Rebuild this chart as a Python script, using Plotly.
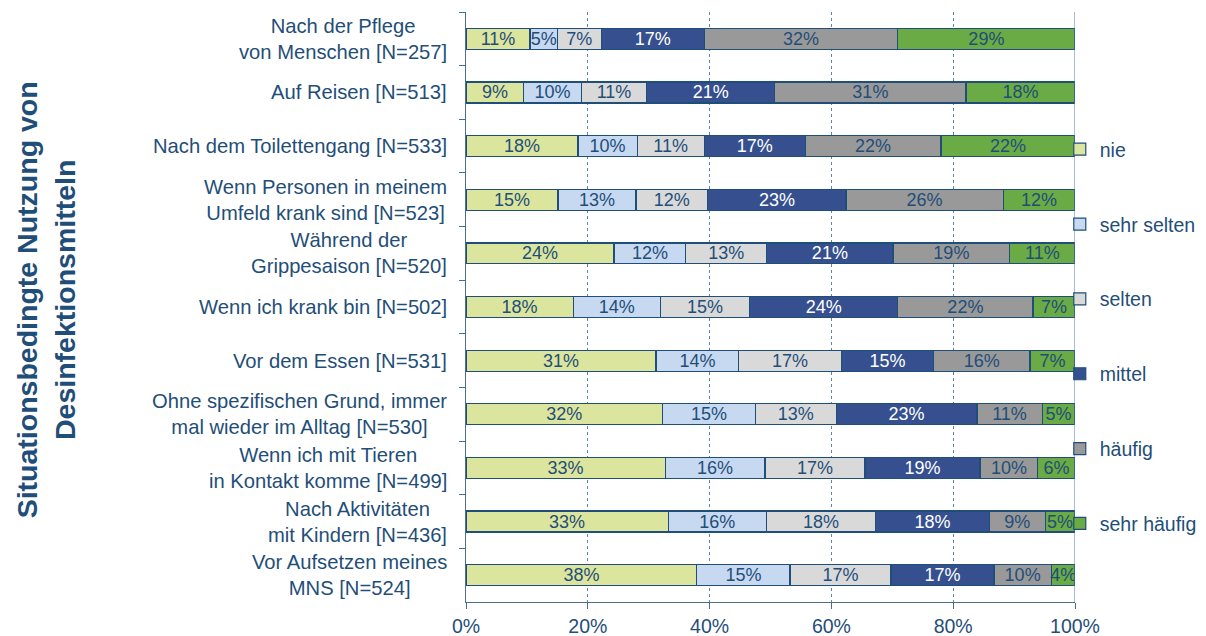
import plotly.graph_objects as go

categories = [
    "Nach der Pflege<br>von Menschen [N=257]",
    "Auf Reisen [N=513]",
    "Nach dem Toilettengang [N=533]",
    "Wenn Personen in meinem<br>Umfeld krank sind [N=523]",
    "Während der<br>Grippesaison [N=520]",
    "Wenn ich krank bin [N=502]",
    "Vor dem Essen [N=531]",
    "Ohne spezifischen Grund, immer<br>mal wieder im Alltag [N=530]",
    "Wenn ich mit Tieren<br>in Kontakt komme [N=499]",
    "Nach Aktivitäten<br>mit Kindern [N=436]",
    "Vor Aufsetzen meines<br>MNS [N=524]",
]

series_names = ["nie", "sehr selten", "selten", "mittel", "häufig", "sehr häufig"]

# segment widths (percent)
nie = [10.5, 9.5, 18.4, 15.1, 24.3, 17.6, 31.2, 32.3, 32.7, 33.2, 37.9]
sehr_selten = [4.5, 9.4, 9.7, 12.8, 11.8, 14.3, 13.6, 15.2, 16.4, 16.1, 15.3]
selten = [7.2, 10.8, 11.0, 11.8, 13.3, 14.7, 16.8, 13.3, 16.4, 18.0, 16.6]
mittel = [16.9, 21.0, 16.6, 22.7, 20.7, 24.3, 15.2, 23.1, 18.9, 18.6, 16.9]
haeufig = [31.8, 31.4, 22.3, 25.8, 19.2, 22.2, 15.8, 10.7, 9.5, 9.2, 9.4]
sehr_haeufig = [29.1, 17.9, 22.0, 11.8, 10.7, 6.9, 7.4, 5.4, 6.1, 4.9, 3.9]

# printed labels
lbl_nie = [11, 9, 18, 15, 24, 18, 31, 32, 33, 33, 38]
lbl_sehr_selten = [5, 10, 10, 13, 12, 14, 14, 15, 16, 16, 15]
lbl_selten = [7, 11, 11, 12, 13, 15, 17, 13, 17, 18, 17]
lbl_mittel = [17, 21, 17, 23, 21, 24, 15, 23, 19, 18, 17]
lbl_haeufig = [32, 31, 22, 26, 19, 22, 16, 11, 10, 9, 10]
lbl_sehr_haeufig = [29, 18, 22, 12, 11, 7, 7, 5, 6, 5, 4]

x_ticks = [0, 20, 40, 60, 80, 100]
x_tick_labels = ["0%", "20%", "40%", "60%", "80%", "100%"]

values = [nie, sehr_selten, selten, mittel, haeufig, sehr_haeufig]
labels = [lbl_nie, lbl_sehr_selten, lbl_selten, lbl_mittel, lbl_haeufig, lbl_sehr_haeufig]
colors = ["#DCE59E", "#C6D9F1", "#D9D9D9", "#36508F", "#999999", "#6AAB45"]
text_colors = ["#1F4E79", "#1F4E79", "#1F4E79", "#FFFFFF", "#1F4E79", "#1F4E79"]

DARK = "#1F4E79"
FONT = "Liberation Sans, Arial, sans-serif"

fig = go.Figure()
for i, name in enumerate(series_names):
    fig.add_trace(go.Bar(
        y=categories,
        x=values[i],
        name=name,
        orientation="h",
        marker=dict(color=colors[i], line=dict(color=DARK, width=1.2)),
        text=[f"{v}%" for v in labels[i]],
        textposition="inside",
        insidetextanchor="middle",
        textangle=0,
        textfont=dict(color=text_colors[i], size=18, family=FONT),
        width=0.39,
        legendgroup=name,
        hoverinfo="skip",
    ))

# category labels as centered annotations
for c in categories:
    fig.add_annotation(
        x=0, xref="paper", y=c, yref="y",
        text=c, showarrow=False, xanchor="right", align="center",
        xshift=-17, font=dict(size=20.2, color=DARK, family=FONT),
    )

fig.add_annotation(
    x=-0.689, xref="paper", y=0.512, yref="paper",
    text="<b>Situationsbedingte Nutzung von<br>Desinfektionsmitteln</b>",
    textangle=-90, showarrow=False, xanchor="center", yanchor="middle",
    align="center", font=dict(size=28.5, color=DARK, family=FONT),
)

# page body has an 8px default margin; compensate
fig.update_layout(
    barmode="stack",
    width=1198, height=636,
    margin=dict(l=458, r=131, t=4, b=42, autoexpand=False),
    paper_bgcolor="white", plot_bgcolor="white",
    font=dict(family=FONT, color=DARK),
    showlegend=True,
    legend=dict(
        x=0.975, xanchor="left", y=0.800, yanchor="top",
        bgcolor="rgba(0,0,0,0)", tracegroupgap=46.5,
        font=dict(size=19.5, color=DARK, family=FONT),
        traceorder="grouped",
    ),
    uniformtext=dict(minsize=18, mode="show"),
    xaxis=dict(
        range=[0, 100], tickvals=x_ticks, ticktext=x_tick_labels,
        showgrid=True, gridcolor="#5A86B0", griddash="dot", gridwidth=1,
        showline=True, linecolor="#4F6E8F", linewidth=1.2,
        ticks="outside", ticklen=6, tickcolor="#4F6E8F",
        tickfont=dict(size=19.5, color=DARK, family=FONT),
        zeroline=False, fixedrange=True,
    ),
    yaxis=dict(
        type="category", autorange="reversed",
        showticklabels=False,
        showline=True, linecolor="#4F6E8F", linewidth=1.2,
        ticks="outside", ticklen=6, tickcolor="#4F6E8F",
        tickson="boundaries", showgrid=False, fixedrange=True,
        mirror=False,
    ),
)

fig.add_shape(type="line", xref="x", yref="paper", x0=100, x1=100, y0=0, y1=1,
              line=dict(color="#4F7DA8", width=1))

fig.write_html("out.html")
